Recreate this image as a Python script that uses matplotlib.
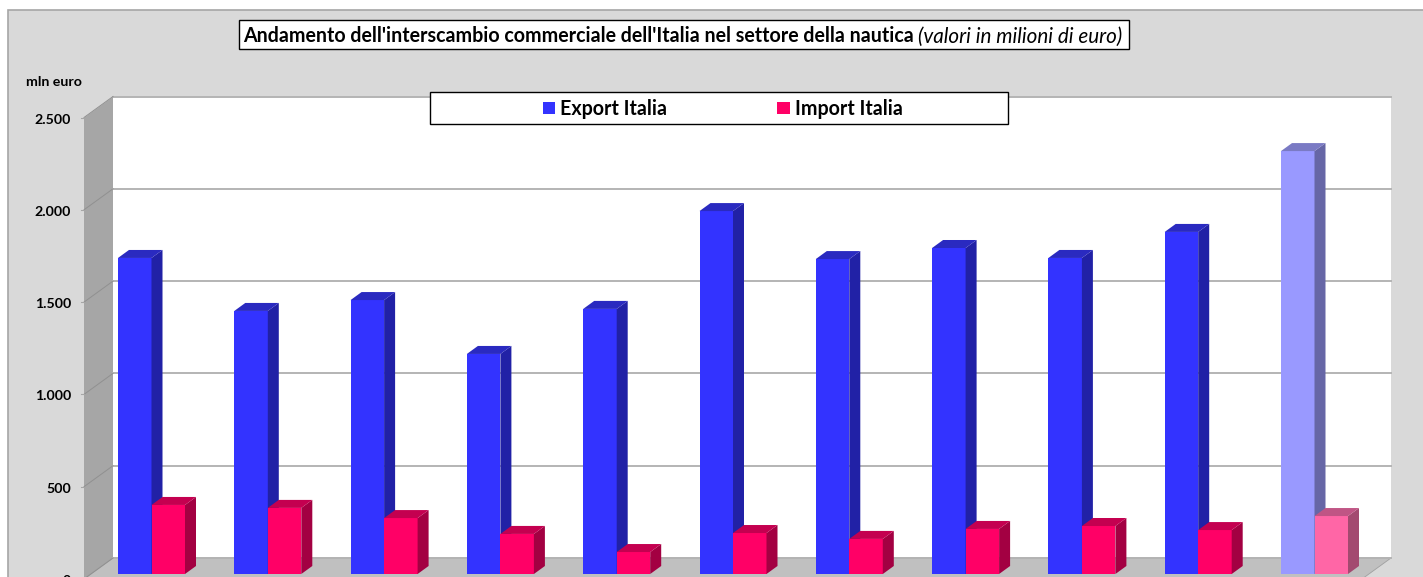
import matplotlib
matplotlib.use("Agg")
import matplotlib.pyplot as plt
from matplotlib.patches import Polygon, Rectangle

plt.rcParams['font.family'] = ['Lato', 'DejaVu Sans']

export_vals = [1712, 1425, 1484, 1192, 1436, 1966, 1706, 1766, 1712, 1853, 2291]
import_vals = [374, 358, 303, 217, 119, 222, 190, 244, 260, 238, 314]
tick_vals = [0, 500, 1000, 1500, 2000, 2500]
tick_labels = ['0', '500', '1.000', '1.500', '2.000', '2.500']

W, H = 1423, 577
# scale: bars start 116.3 px apart, 500 euro = 92.3 px
PX_X = 116.3
PX_Y = 92.3 / 500
X0 = 118
Y0 = 574

fig = plt.figure(figsize=(W / 100, H / 100), dpi=100, facecolor='white')
ax = fig.add_axes([0, 0, 1, 1])
ax.set_xlim(-X0 / PX_X, (W - X0) / PX_X)
ax.set_ylim(-(H - Y0) / PX_Y, Y0 / PX_Y)
ax.axis('off')

def dx(p):
    return p / PX_X

def dy(p):
    return p / PX_Y

def px(xp, yp):
    # pixel position in the reference -> data coordinates
    return (xp - X0) / PX_X, (Y0 - yp) / PX_Y

def poly(pts, fc, ec='none', lw=0, z=1):
    ax.add_patch(Polygon([px(*p) for p in pts], closed=True, fc=fc, ec=ec, lw=lw, zorder=z))

def bar3d(x, w, v, face, side, top, z):
    d1, d2 = dx(11), dy(8)
    ax.add_patch(Rectangle((x, 0), w, v, fc=face, ec='none', zorder=z))
    ax.add_patch(Polygon([(x + w, 0), (x + w + d1, d2), (x + w + d1, v + d2), (x + w, v)],
                         fc=side, ec='none', zorder=z))
    ax.add_patch(Polygon([(x, v), (x + d1, v + d2), (x + w + d1, v + d2), (x + w, v)],
                         fc=top, ec='none', zorder=z))

# chart area, right and bottom edges fall outside the picture
poly([(8, 10), (W + 5, 10), (W + 5, H + 5), (8, H + 5)], '#d9d9d9', ec='#a6a6a6', lw=1.2, z=0)

# walls and floor
poly([(113, 97), (1391, 97), (1391, 558), (113, 558)], 'white', z=1)
poly([(84, 118), (113, 97), (113, 558), (84, 579)], '#a6a6a6', z=1)
poly([(84, 579), (113, 558), (1391, 558), (1362, 579)], '#c0c0c0', ec='#a0a0a0', lw=0.6, z=1)

# gridlines, ticks and labels
for v, lab in zip(tick_vals, tick_labels):
    yb = 558 - v * PX_Y
    yf = 579 - v * PX_Y
    ax.plot(*zip(px(113, yb), px(1391, yb)), color='#b4b4b4', lw=1.4, zorder=2)
    ax.plot(*zip(px(84, yf), px(113, yb)), color='#909090', lw=0.7, zorder=2)
    ax.plot(*zip(px(81, yf), px(84, yf)), color='#a6a6a6', lw=0.8, zorder=2)
    tx, ty = px(71, yf + 2)
    ax.text(tx, ty, lab, ha='right', va='center', fontsize=10.2, fontweight='bold', color='black', zorder=5)

tx, ty = px(26, 82)
ax.text(tx, ty, 'mln euro', ha='left', va='center', fontsize=10.2, fontweight='bold', zorder=5)

# bars, last year in lighter colours
bw = 33.5 / PX_X
for i in range(len(export_vals)):
    last = i == len(export_vals) - 1
    if last:
        c_e = ('#9999ff', '#6666a6', '#7a7ac4')
        c_i = ('#ff66a6', '#a34a70', '#c05585')
    else:
        c_e = ('#3333ff', '#2121a6', '#2a2ac0')
        c_i = ('#ff0066', '#a30042', '#c40050')
    bar3d(i, bw, export_vals[i], *c_e, z=3 + i * 0.01)
    bar3d(i + bw, bw, import_vals[i], *c_i, z=3.005 + i * 0.01)

# title box
poly([(239, 20), (1129, 20), (1129, 49), (239, 49)], 'white', ec='black', lw=1.0, z=6)
tx, ty = px(243, 36.5)
t1 = ax.text(tx, ty, "Andamento dell'interscambio commerciale dell'Italia nel settore della nautica",
             ha='left', va='center', fontsize=14.15, fontweight='bold', zorder=7)
fig.canvas.draw()
bb = t1.get_window_extent()
tx2 = ax.transData.inverted().transform((bb.x1 + 4, 0))[0]
ax.text(tx2, ty, '(valori in milioni di euro)', ha='left', va='center', fontsize=14.85,
        fontstyle='italic', zorder=7)

# legend box
poly([(430, 92), (1008, 92), (1008, 124), (430, 124)], 'white', ec='black', lw=1.0, z=6)
poly([(543, 102), (555, 102), (555, 114), (543, 114)], '#3333ff', z=7)
poly([(777, 102), (790, 102), (790, 114), (777, 114)], '#ff0066', z=7)
tx, ty = px(560, 109)
ax.text(tx, ty, 'Export Italia', ha='left', va='center', fontsize=14.1, fontweight='bold', zorder=7)
tx, ty = px(795, 109)
ax.text(tx, ty, 'Import Italia', ha='left', va='center', fontsize=14.1, fontweight='bold', zorder=7)

fig.savefig('out.png', dpi=100, facecolor='white')
